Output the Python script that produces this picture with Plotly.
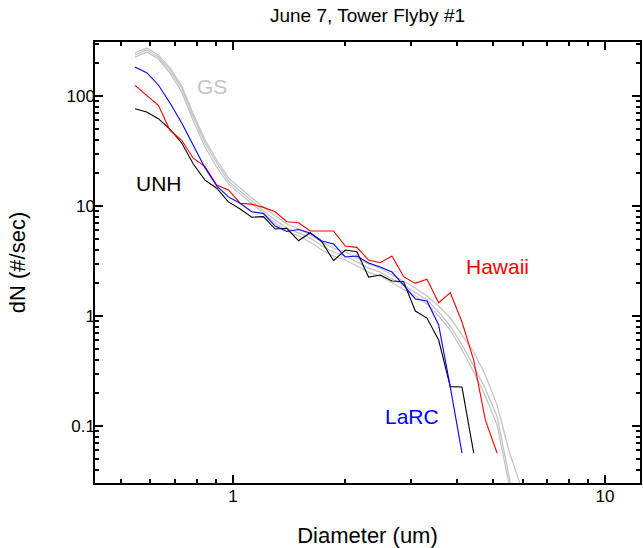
import plotly.graph_objects as go

# Bin diameters (um)
diameter = [0.545, 0.586, 0.630, 0.677, 0.728, 0.782, 0.841, 0.904, 0.972, 1.045,
            1.123, 1.207, 1.298, 1.395, 1.500, 1.612, 1.733, 1.863, 2.003, 2.153,
            2.314, 2.488, 2.674, 2.875, 3.090, 3.322, 3.571, 3.838, 4.126, 4.436,
            4.768, 5.126, 5.510, 5.923]

gs_1 = [236, 262, 226, 172, 118, 64.4, 37.4, 24.6, 16.9, 13.7, 11.1, 9.0, 7.46, 6.31,
        5.69, 5.12, 4.33, 3.82, 3.51, 3.10, 2.73, 2.51, 2.17, 1.91, 1.65, 1.40, 1.09,
        0.811, 0.545, 0.351, 0.217, 0.123, 0.0359, 0.0092]
gs_2 = [246, 273, 236, 180, 123, 68.6, 39.8, 26.2, 18.0, 14.6, 11.8, 9.79, 8.11, 6.86,
        6.18, 5.45, 4.71, 4.15, 3.82, 3.37, 2.97, 2.73, 2.36, 2.08, 1.80, 1.52, 1.23,
        0.959, 0.672, 0.471, 0.291, 0.155, 0.0605, 0.0291]
gs_3 = [226, 251, 217, 162, 109, 59.3, 34.4, 22.6, 15.8, 12.9, 10.4, 8.46, 7.0, 5.93,
        5.34, 4.71, 3.98, 3.51, 3.23, 2.85, 2.51, 2.31, 2.0, 1.76, 1.52, 1.29, 1.0,
        0.746, 0.491, 0.310, 0.187, 0.102, 0.0323, 0.0092]

larc = [183.5, 163, 126, 86.3, 56.8, 35.1, 22.2, 15.2, 12.1, 10.6, 8.87, 8.55, 6.58,
        5.86, 6.11, 5.68, 4.81, 4.52, 3.44, 3.51, 3.03, 2.79, 2.51, 1.91, 1.43, 1.37,
        0.829, 0.226, 0.0568]
hawaii = [125, 101.5, 82.4, 48.8, 39.6, 27.2, 22.8, 15.5, 14.0, 10.6, 10.4, 9.72, 8.87,
          7.2, 7.05, 5.93, 5.93, 5.93, 4.33, 4.21, 3.23, 3.05, 3.51, 2.28, 1.98, 2.16,
          1.32, 1.63, 0.882, 0.398, 0.113, 0.0568]
unh = [76.7, 71.6, 62.2, 49.8, 37.4, 24.1, 17.2, 14.5, 10.9, 9.39, 7.91, 8.0, 6.18,
       6.27, 4.84, 5.72, 4.74, 3.18, 3.98, 3.84, 2.26, 2.36, 2.08, 2.05, 1.11, 0.959,
       0.605, 0.228, 0.226, 0.0568]

FONT = "Liberation Sans, Arial, sans-serif"

fig = go.Figure()
for s in (gs_1, gs_2, gs_3):
    fig.add_trace(go.Scatter(x=diameter[:len(s)], y=s, mode="lines",
                             line=dict(color="#c4c4c4", width=1.3), showlegend=False))
fig.add_trace(go.Scatter(x=diameter[:len(unh)], y=unh, mode="lines",
                         line=dict(color="black", width=1.1), showlegend=False))
fig.add_trace(go.Scatter(x=diameter[:len(hawaii)], y=hawaii, mode="lines",
                         line=dict(color="#ff0000", width=1.1), showlegend=False))
fig.add_trace(go.Scatter(x=diameter[:len(larc)], y=larc, mode="lines",
                         line=dict(color="#0000ff", width=1.1), showlegend=False))

labels = [("GS", -0.0565, 2.082, "#c4c4c4"),
          ("UNH", -0.199, 1.209, "black"),
          ("Hawaii", 0.7097, 0.4545, "#ff0000"),
          ("LaRC", 0.481, -0.909, "#0000ff")]
for txt, lx, ly, col in labels:
    fig.add_annotation(x=lx, y=ly, xref="x", yref="y", text=txt, showarrow=False,
                       font=dict(family=FONT, size=21, color=col))

axis_common = dict(
    type="log", showgrid=False, zeroline=False, automargin=False,
    showline=True, linecolor="black", linewidth=1.5, mirror="ticks",
    ticks="inside", ticklen=8, tickwidth=1.5, tickcolor="black",
    tickfont=dict(family=FONT, size=17, color="black"),
    dtick=1, tick0=0,
    minor=dict(ticks="inside", ticklen=4, tickwidth=1.5, tickcolor="black",
               dtick="D1", showgrid=False),
)

fig.update_layout(
    width=643, height=548,
    margin=dict(l=95, r=3, t=42, b=65),
    paper_bgcolor="white", plot_bgcolor="white",
    title=dict(text="June 7, Tower Flyby #1", x=(95 + 640) / 2 / 643, xanchor="center",
               y=1 - 15 / 548, yanchor="middle",
               font=dict(family=FONT, size=19, color="black")),
    xaxis=dict(axis_common, range=[-0.371, 1.094], ticklabelstandoff=-3,
               title=dict(text="Diameter (um)", font=dict(family=FONT, size=22, color="black"),
                          standoff=24)),
    yaxis=dict(axis_common, range=[-1.518, 2.491], ticklabelstandoff=-5,
               title=dict(text="dN (#/sec)", font=dict(family=FONT, size=22, color="black"),
                          standoff=35)),
)

fig.write_html("out.html",
               config={"displayModeBar": False},
               post_script="document.body.style.margin='0';document.body.style.overflow='hidden';")
